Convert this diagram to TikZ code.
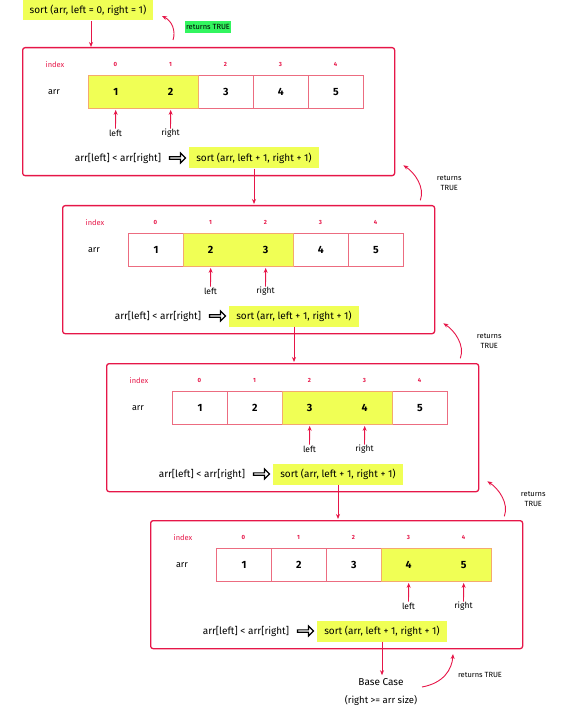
\documentclass[tikz,border=0pt]{standalone}
\usepackage{fontspec}
\setmainfont{Fira Sans}
\usetikzlibrary{arrows.meta,calc,shapes.arrows}
\definecolor{crim}{RGB}{230,22,72}
\definecolor{cellpink}{RGB}{236,108,128}
\definecolor{hlyel}{RGB}{240,255,85}
\definecolor{hlbord}{RGB}{244,170,110}
\definecolor{grn}{RGB}{50,245,95}
\begin{document}
\begin{tikzpicture}[x=1pt,y=-1pt,
  frm/.style={draw=crim, line width=1.3pt, rounded corners=2.5pt, minimum width=372pt, minimum height=128pt, inner sep=0pt, anchor=north west},
  cellbox/.style={draw=cellpink, line width=0.9pt, minimum width=55pt, minimum height=33pt, inner sep=0pt, anchor=north west, font=\bfseries\fontsize{10.5}{12}\selectfont},
  hlcell/.style={fill=hlyel, minimum width=55pt, minimum height=33pt, inner sep=0pt, anchor=north west, font=\bfseries\fontsize{10.5}{12}\selectfont},
  idx/.style={text=crim, font=\bfseries\fontsize{6}{7}\selectfont, inner sep=0pt},
  idxword/.style={text=crim, font=\fontsize{7.5}{9}\selectfont, inner sep=0pt},
  arrword/.style={font=\fontsize{9}{10}\selectfont, inner sep=0pt},
  lbl/.style={font=\fontsize{8.5}{9}\selectfont, inner sep=1pt},
  cond/.style={font=\fontsize{10}{11}\selectfont, inner sep=0pt},
  sortbox/.style={fill=hlyel, minimum width=130pt, minimum height=21pt, inner sep=0pt, font=\fontsize{10}{11}\selectfont},
  imp/.style={single arrow, draw=black, line width=1.2pt, minimum height=16pt, minimum width=10pt, single arrow head extend=2pt, single arrow tip angle=90, inner sep=0pt},
  ptr/.style={draw=crim, line width=0.9pt, -{Stealth[length=5pt,width=4pt]}},
  rettxt/.style={font=\fontsize{7.5}{9.5}\selectfont, align=center, inner sep=0pt}
]
\useasboundingbox (0,0) rectangle (563,719);

% top call
\node[sortbox, minimum height=20pt] (s0) at (88,10) {sort (arr, left = 0, right = 1)};
\node[fill=grn, font=\fontsize{7.5}{9}\selectfont, inner sep=1.5pt, minimum height=12pt] (g0) at (208,27) {returns TRUE};

\foreach \i/\L/\T/\h in {1/22/47/0, 2/62/205/1, 3/106/363/2, 4/150/520/3} {
  \node[frm] (f\i) at (\L,\T) {};
  \node[idxword] (iw\i) at (\L+33,\T+18) {index};
  \node[arrword] (aw\i) at (\L+32,\T+45) {arr};
  \foreach \j in {0,...,4} {
    \pgfmathtruncatemacro{\v}{\j+1}
    \node[idx] (ix\i-\j) at (\L+93.5+55*\j,\T+17) {\j};
    \ifnum\j=\h
      \node[hlcell] (c\i-\j) at (\L+66+55*\j,\T+28) {\v};
    \else
      \pgfmathtruncatemacro{\hh}{\h+1}
      \ifnum\j=\hh
        \node[hlcell] (c\i-\j) at (\L+66+55*\j,\T+28) {\v};
      \else
        \node[cellbox] (c\i-\j) at (\L+66+55*\j,\T+28) {\v};
      \fi
    \fi
  }
  \pgfmathtruncatemacro{\hn}{\h+1}
  \draw[hlbord, line width=0.9pt] (c\i-\h.north west) rectangle (c\i-\hn.south east);
  \node[lbl] (lf\i) at (\L+93.5+55*\h,\T+86) {left};
  \node[lbl] (rt\i) at (\L+148.5+55*\h,\T+86) {right};
  \draw[ptr, shorten >=1.5pt] (lf\i.north) -- (c\i-\h.south);
  \draw[ptr, shorten >=1.5pt] (rt\i.north |- lf\i.north) -- (c\i-\hn.south);
  \node[cond] (q\i) at (\L+96,\T+111) {arr[left] < arr[right]};
  \node[imp] (d\i) at (\L+155,\T+111) {};
  \node[sortbox] (s\i) at (\L+232,\T+111) {sort (arr, left + 1, right + 1)};
}

% call arrows
\coordinate (a0) at ($(s0.south)+(3,1)$);
\draw[ptr] (a0) -- (a0 |- f1.north);
\foreach \i/\n in {1/2,2/3,3/4} {
  \draw[ptr, shorten >=1pt] (s\i.south) -- (s\i.south |- f\n.north);
}

% return arrows
\coordinate (r0) at (173,40);
\draw[ptr] (r0) .. controls ($(r0)+(3,-9)$) and ($(r0)+(-1,-19)$) .. ($(r0)+(-11,-24)$);
\foreach \i in {1,2,3} {
  \coordinate (r\i) at ($(f\i.south east)+(25,24)$);
  \draw[ptr] (r\i) .. controls ($(r\i)+(5,-13)$) and ($(r\i)+(-6,-28)$) .. ($(r\i)+(-17,-35)$);
  \node[rettxt] (t\i) at ($(f\i.south east)+(54,7)$) {returns\\TRUE};
}

% base case
\node[font=\fontsize{10}{11}\selectfont, inner sep=1pt] (b) at (381,682) {Base Case};
\node[font=\fontsize{9.5}{11}\selectfont, inner sep=1pt] (b2) at (381,700) {(right >= arr size)};
\draw[ptr, shorten >=2pt] (s4.south) -- (s4.south |- b.north);
\coordinate (r4) at (422,687);
\draw[ptr] (r4) .. controls ($(r4)+(22,-4)$) and ($(r4)+(30,-18)$) .. ($(r4)+(31,-33)$);
\node[font=\fontsize{7.5}{9}\selectfont, inner sep=0pt] (t4) at (480,675) {returns TRUE};
\end{tikzpicture}
\end{document}
